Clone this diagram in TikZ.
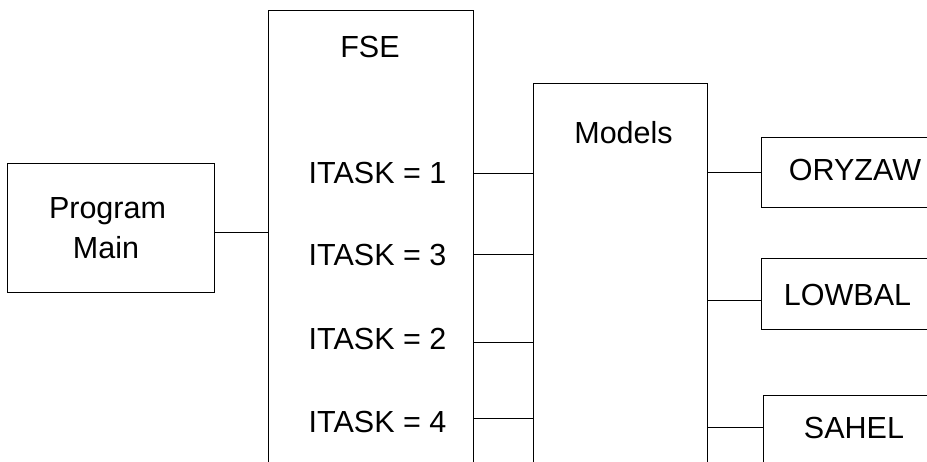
\documentclass[tikz,border=0pt]{standalone}
\usepackage{fontspec}
\setmainfont{Liberation Sans}
\begin{document}
\begin{tikzpicture}[x=1pt,y=-1pt,
  box/.style={draw,line width=1.3pt,rectangle,inner sep=0pt,anchor=north west},
  lbl/.style={anchor=base,inner sep=0pt,font=\fontsize{30.5}{36}\selectfont},
  conn/.style={line width=0.9pt}]
\useasboundingbox (0,0) rectangle (927,461);
\clip (0,0) rectangle (927,461);
% boxes
\node[box,minimum width=207pt,minimum height=129pt] (prog) at (7,163) {};
\node[box,minimum width=205pt,minimum height=480pt] (fse) at (268,10) {};
\node[box,minimum width=174pt,minimum height=410pt] (models) at (533,83) {};
\node[box,minimum width=200pt,minimum height=70pt] (ory) at (761,137) {};
\node[box,minimum width=200pt,minimum height=71pt] (low) at (761,258) {};
\node[box,minimum width=200pt,minimum height=75pt] (sah) at (763,395) {};
% texts
\node[lbl] (tprog) at (107.5,218) {Program};
\node[lbl] (tmain) at (106,258) {Main};
\node[lbl] (tfse) at (370,57) {FSE};
\node[lbl] (t1) at (377.5,183) {ITASK = 1};
\node[lbl] (t3) at (377.5,265) {ITASK = 3};
\node[lbl] (t2) at (377.5,349) {ITASK = 2};
\node[lbl] (t4) at (377.5,432) {ITASK = 4};
\node[lbl] (tmod) at (623.5,143) {Models};
\node[lbl] (tory) at (855,180) {ORYZAW};
\node[lbl] (tlow) at (847.5,305) {LOWBAL};
\node[lbl] (tsah) at (854,438) {SAHEL};
% connectors
\draw[conn] (prog.east |- 0,232) -- (fse.west |- 0,232);
\draw[conn] ([yshift=-1pt]fse.east |- t1.center) -- ([yshift=-1pt]models.west |- t1.center);
\draw[conn] (fse.east |- t3.center) -- (models.west |- t3.center);
\draw[conn] ([yshift=-4pt]fse.east |- t2.center) -- ([yshift=-4pt]models.west |- t2.center);
\draw[conn] ([yshift=3pt]fse.east |- t4.center) -- ([yshift=3pt]models.west |- t4.center);
\draw[conn] (models.east |- ory.west) -- (ory.west);
\draw[conn] (models.east |- 0,300) -- (low.west |- 0,300);
\draw[conn] (models.east |- 0,427) -- (sah.west |- 0,427);
\end{tikzpicture}
\end{document}
